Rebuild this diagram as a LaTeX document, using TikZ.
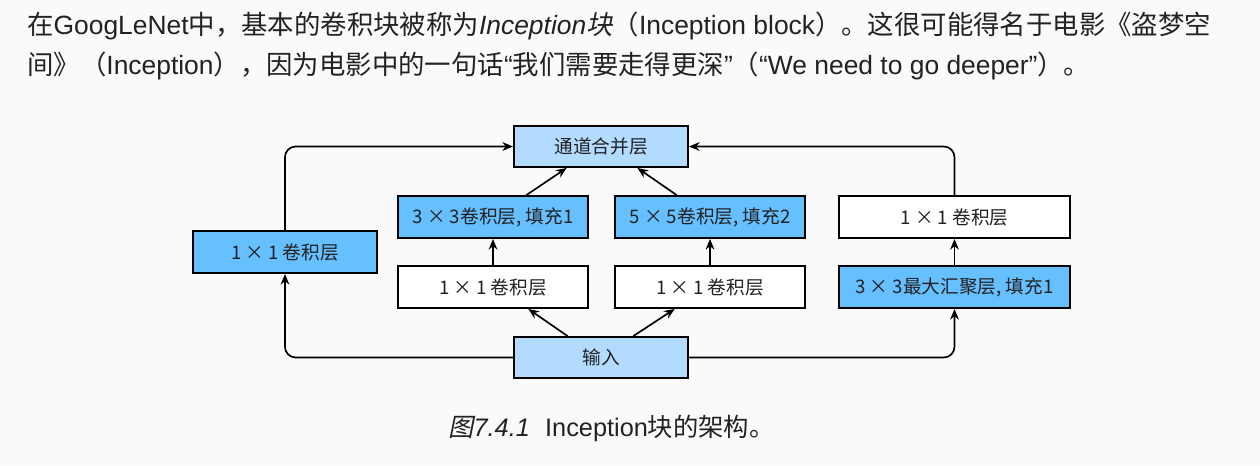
\documentclass[tikz,border=0pt]{standalone}
\usepackage{fontspec}
\setmainfont{Noto Sans CJK SC}
\newfontfamily\cjkit{Noto Sans CJK SC}[FakeSlant=0.2]
\newfontfamily\lat{Liberation Sans}
\newcommand{\la}[1]{{\lat #1}}
\newcommand{\lai}[1]{{\lat\itshape #1}}
\usetikzlibrary{arrows.meta,calc}
\definecolor{bg}{HTML}{FAFAFA}
\definecolor{lightb}{HTML}{B3DAFF}
\definecolor{darkb}{HTML}{66BFFF}
\definecolor{txt}{HTML}{222222}
\tikzset{
  cell/.style={draw=black, line width=1.4pt, inner sep=0pt, text=txt,
    font=\fontsize{14pt}{16pt}\selectfont},
  lite/.style={cell, fill=lightb},
  dark/.style={cell, fill=darkb},
  plain/.style={cell, fill=white},
  arr/.style={draw=black, line width=1.25pt, -{Stealth[length=8pt,width=6.5pt]}},
  para/.style={anchor=base west, inner sep=0pt, text=txt, font=\fontsize{19.8pt}{24pt}\selectfont},
}
\begin{document}
\begin{tikzpicture}[x=0.75pt,y=-0.75pt]
\fill[bg] (0,0) rectangle (1260,465);
\useasboundingbox (0,0) rectangle (1260,465);

\node[para] (p1) at (27,34) {在\la{GoogLeNet}中，基本的卷积块被称为\lai{Inception}{\cjkit 块}（\la{Inception block}）。这很可能得名于电影《盗梦空};
\node[para] (p2) at (27,74) {间》（\la{Inception}），因为电影中的一句话\la{“}我们需要走得更深\la{”}（\la{“We need to go deeper”}）。};

\node[lite, minimum width=174*0.75pt, minimum height=41*0.75pt] (cat) at (601,146.5) {通道合并层};
\node[dark, minimum width=184*0.75pt, minimum height=42*0.75pt] (b1) at (285,252) {1 × 1 卷积层};
\node[dark, minimum width=190*0.75pt, minimum height=42*0.75pt] (c3) at (493,217) {3 × 3卷积层, 填充1};
\node[plain, minimum width=190*0.75pt, minimum height=42*0.75pt] (r3) at (493,287) {1 × 1 卷积层};
\node[dark, minimum width=190*0.75pt, minimum height=42*0.75pt] (c5) at (710,217) {5 × 5卷积层, 填充2};
\node[plain, minimum width=190*0.75pt, minimum height=42*0.75pt] (r5) at (710,287) {1 × 1 卷积层};
\node[plain, minimum width=231*0.75pt, minimum height=42*0.75pt] (p1x) at (954.5,217) {1 × 1 卷积层};
\node[dark, minimum width=231*0.75pt, minimum height=42*0.75pt] (mp) at (954.5,287) {3 × 3最大汇聚层, 填充1};
\node[lite, minimum width=174*0.75pt, minimum height=41*0.75pt] (in) at (601,357.5) {输入};

\draw[arr, rounded corners=8pt] (in.west) -| (b1.south);
\draw[arr, rounded corners=8pt] (b1.north) |- (cat.west);
\draw[arr] ($(in.north west)!0.31!(in.north east)$) -- ($(r3.south west)!0.684!(r3.south east)$);
\draw[arr] (r3.north) -- (c3.south);
\draw[arr] ($(c3.north west)!0.674!(c3.north east)$) -- ($(cat.south west)!0.305!(cat.south east)$);
\draw[arr] ($(in.north west)!0.684!(in.north east)$) -- ($(r5.south west)!0.316!(r5.south east)$);
\draw[arr] (r5.north) -- (c5.south);
\draw[arr] ($(c5.north west)!0.326!(c5.north east)$) -- ($(cat.south west)!0.707!(cat.south east)$);
\draw[arr, rounded corners=8pt] (in.east) -| (mp.south);
\draw[arr] (mp.north) -- (p1x.south);
\draw[arr, rounded corners=8pt] (p1x.north) |- (cat.east);

\node[anchor=base west, inner sep=0pt, text=txt, font=\fontsize{19pt}{22pt}\selectfont] (cap) at (448,436) {{\cjkit 图}\lai{7.4.1}\hspace{0.6em}\la{Inception}块的架构。};
\end{tikzpicture}
\end{document}
